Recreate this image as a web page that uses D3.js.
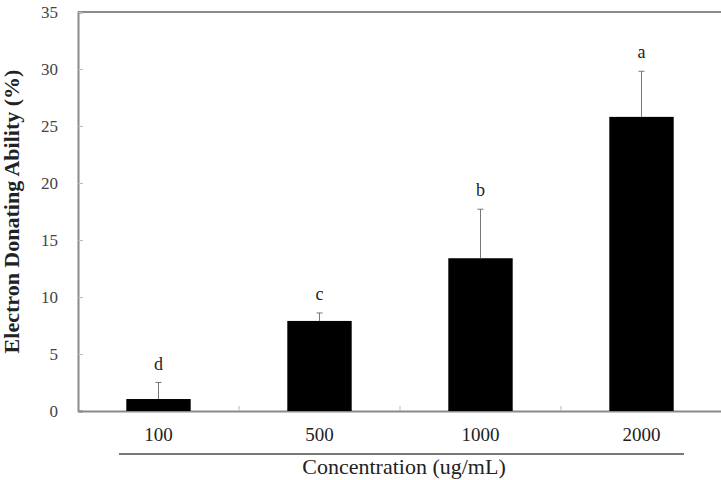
<!DOCTYPE html>
<html>
<head>
<meta charset="utf-8">
<script src="https://cdn.jsdelivr.net/npm/d3@7"></script>
<style>
  body { margin: 0; background: #fff; }
  svg text { font-family: "Liberation Serif", "DejaVu Serif", serif; }
</style>
</head>
<body>
<div id="chart"></div>
<script>
// data
const concentrations = ["100", "500", "1000", "2000"];
const means = [1.05, 7.9, 13.4, 25.8];
const errors = [1.45, 0.7, 4.3, 4.0];
const letters = ["d", "c", "b", "a"];
const yTicks = [0, 5, 10, 15, 20, 25, 30, 35];

var margin = {top: 12, right: -1, bottom: 69, left: 78},
    width = 721 - margin.left - margin.right,
    height = 480 - margin.top - margin.bottom;

var svg = d3.select("#chart")
  .append("svg")
  .attr("width", 721)
  .attr("height", 480)
  .append("g")
  .attr("transform", "translate(" + margin.left + "," + margin.top + ")");

var x = d3.scaleBand()
  .domain(concentrations)
  .range([0, width])
  .padding(0);

var y = d3.scaleLinear()
  .domain([0, 35])
  .range([height, 0]);

var axisColor = "#8a8a8a";

// frame top line
svg.append("line")
  .attr("x1", 0).attr("x2", width)
  .attr("y1", y(35)).attr("y2", y(35))
  .attr("stroke", axisColor).attr("stroke-width", 2);

// Y axis
var yAxis = svg.append("g")
  .call(d3.axisLeft(y).tickValues(yTicks).tickSize(-5).tickPadding(20));
yAxis.select(".domain").attr("stroke", axisColor).attr("stroke-width", 2);
yAxis.selectAll(".tick line").attr("stroke", "#bbb");
yAxis.selectAll("text")
  .style("font-size", "17px")
  .attr("fill", "#444");

// X axis
var xAxis = svg.append("g")
  .attr("transform", "translate(0," + height + ")")
  .call(d3.axisBottom(x).tickSize(0).tickPadding(17));
xAxis.select(".domain").attr("stroke", axisColor).attr("stroke-width", 2);
xAxis.selectAll("text")
  .style("font-size", "19px")
  .attr("fill", "#222");

// minor ticks between categories
svg.append("g")
  .selectAll("line")
  .data(concentrations.slice(1))
  .enter()
  .append("line")
    .attr("x1", d => x(d)).attr("x2", d => x(d))
    .attr("y1", height).attr("y2", height - 5)
    .attr("stroke", "#bbb");

// bars
var barW = x.bandwidth() * 0.4;
var rows = concentrations.map((c, i) => ({c: c, m: means[i], e: errors[i], l: letters[i]}));

svg.append("g")
  .selectAll("rect")
  .data(rows)
  .enter()
  .append("rect")
    .attr("x", d => x(d.c) + x.bandwidth() / 2 - barW / 2)
    .attr("y", d => y(d.m))
    .attr("width", barW)
    .attr("height", d => height - y(d.m))
    .attr("fill", "#000");

// error bars
var err = svg.append("g").attr("stroke", "#777").attr("stroke-width", 1);
err.selectAll(".v")
  .data(rows).enter().append("line")
    .attr("x1", d => x(d.c) + x.bandwidth() / 2)
    .attr("x2", d => x(d.c) + x.bandwidth() / 2)
    .attr("y1", d => y(d.m))
    .attr("y2", d => y(d.m + d.e));
err.selectAll(".cap")
  .data(rows).enter().append("line")
    .attr("x1", d => x(d.c) + x.bandwidth() / 2 - 3)
    .attr("x2", d => x(d.c) + x.bandwidth() / 2 + 3)
    .attr("y1", d => y(d.m + d.e))
    .attr("y2", d => y(d.m + d.e));

// significance letters
svg.append("g")
  .selectAll("text")
  .data(rows)
  .enter()
  .append("text")
    .attr("x", d => x(d.c) + x.bandwidth() / 2)
    .attr("y", d => y(d.m + d.e) - 13)
    .attr("text-anchor", "middle")
    .style("font-size", "18px")
    .attr("fill", "#222")
    .text(d => d.l);

// underline for x title
svg.append("line")
  .attr("x1", 41).attr("x2", 606)
  .attr("y1", height + 43).attr("y2", height + 43)
  .attr("stroke", "#777").attr("stroke-width", 2);

svg.append("text")
  .attr("x", 326)
  .attr("y", height + 63)
  .attr("text-anchor", "middle")
  .style("font-size", "22px")
  .attr("fill", "#222")
  .text("Concentration (ug/mL)");

// y title
svg.append("text")
  .attr("transform", "translate(" + (-59) + "," + y(17.5) + ") rotate(-90)")
  .attr("text-anchor", "middle")
  .style("font-size", "22px")
  .style("font-weight", "bold")
  .attr("fill", "#222")
  .text("Electron Donating Ability (%)");
</script>
</body>
</html>
